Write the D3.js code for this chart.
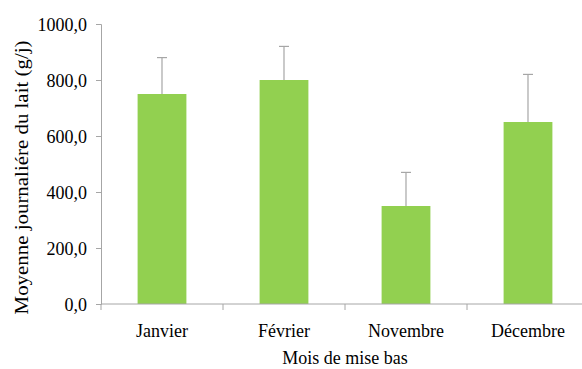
<!DOCTYPE html>
<html>
<head>
<meta charset="utf-8">
<script src="https://cdn.jsdelivr.net/npm/d3@7"></script>
<style>
  html, body { margin: 0; padding: 0; background: #fff; }
  svg { display: block; }
</style>
</head>
<body>
<svg id="chart" width="582" height="369"></svg>
<script>
// Mean daily milk yield by birth month, with standard deviation
const months = ["Janvier", "Février", "Novembre", "Décembre"];
const means = [750, 800, 350, 650];
const errors = [130, 120, 120, 170];
const yTicks = [0, 200, 400, 600, 800, 1000];

const FONT = "'Liberation Serif', 'Times New Roman', serif";
const STRETCH = 1.1; // glyphs are slightly taller than wide
const svg = d3.select("#chart");
const plotLeft = 101, plotRight = 589, plotTop = 24, plotBottom = 304;
const axisColor = "#a6a6a6";
const barColor = "#92d050";

const x = d3.scaleBand().domain(months).range([plotLeft, plotRight])
  .paddingInner(0.6).paddingOuter(0.3);
const y = d3.scaleLinear().domain([0, 1000]).range([plotBottom, plotTop]);
const fmt = v => d3.format(".1f")(v).replace(".", ",");

// Y axis
const yAxis = svg.append("g").attr("transform", `translate(${plotLeft},0)`)
  .call(d3.axisLeft(y).tickValues(yTicks).tickFormat(fmt).tickSizeOuter(0).tickSize(5).tickPadding(9));
yAxis.attr("font-family", FONT).attr("font-size", 18);
yAxis.select(".domain").attr("stroke", axisColor);
yAxis.selectAll(".tick line").attr("stroke", axisColor);
yAxis.selectAll(".tick text").attr("fill", "#000")
  .attr("transform", `scale(1,${STRETCH})`);

// Bars
svg.append("g").selectAll("rect").data(months).join("rect")
  .attr("x", d => x(d))
  .attr("width", x.bandwidth())
  .attr("y", (d, i) => y(means[i]))
  .attr("height", (d, i) => y(0) - y(means[i]))
  .attr("fill", barColor);

// Error bars (upper half only)
const eb = svg.append("g").attr("stroke", axisColor).attr("stroke-width", 1.2);
months.forEach((m, i) => {
  const cx = x(m) + x.bandwidth() / 2;
  eb.append("line").attr("x1", cx).attr("x2", cx)
    .attr("y1", y(means[i])).attr("y2", y(means[i] + errors[i]));
  eb.append("line").attr("x1", cx - 5).attr("x2", cx + 5)
    .attr("y1", y(means[i] + errors[i])).attr("y2", y(means[i] + errors[i]));
});

// X axis with ticks at category boundaries
const xg = svg.append("g").attr("font-family", FONT).attr("font-size", 18);
xg.append("line").attr("x1", plotLeft).attr("x2", plotRight)
  .attr("y1", plotBottom).attr("y2", plotBottom).attr("stroke", axisColor);
const step = x.step();
const boundaries = months.map((m, i) => plotLeft + i * step);
xg.selectAll("line.tk").data(boundaries).join("line").attr("class", "tk")
  .attr("x1", d => d).attr("x2", d => d)
  .attr("y1", plotBottom).attr("y2", plotBottom + 6).attr("stroke", axisColor);
xg.selectAll("text").data(months).join("text")
  .attr("transform", d => `translate(${x(d) + x.bandwidth() / 2},${plotBottom + 33}) scale(1,${STRETCH})`)
  .attr("text-anchor", "middle")
  .text(d => d);

// Axis titles
svg.append("text")
  .attr("font-family", FONT).attr("font-size", 18)
  .attr("transform", `translate(345,364) scale(1,${STRETCH})`)
  .attr("text-anchor", "middle")
  .text("Mois de mise bas");
svg.append("text")
  .attr("font-family", FONT).attr("font-size", 19)
  .attr("transform", `translate(28,177.5) rotate(-90) scale(${STRETCH},1)`)
  .attr("text-anchor", "middle")
  .text("Moyenne journaliére du lait (g/j)");
</script>
</body>
</html>
